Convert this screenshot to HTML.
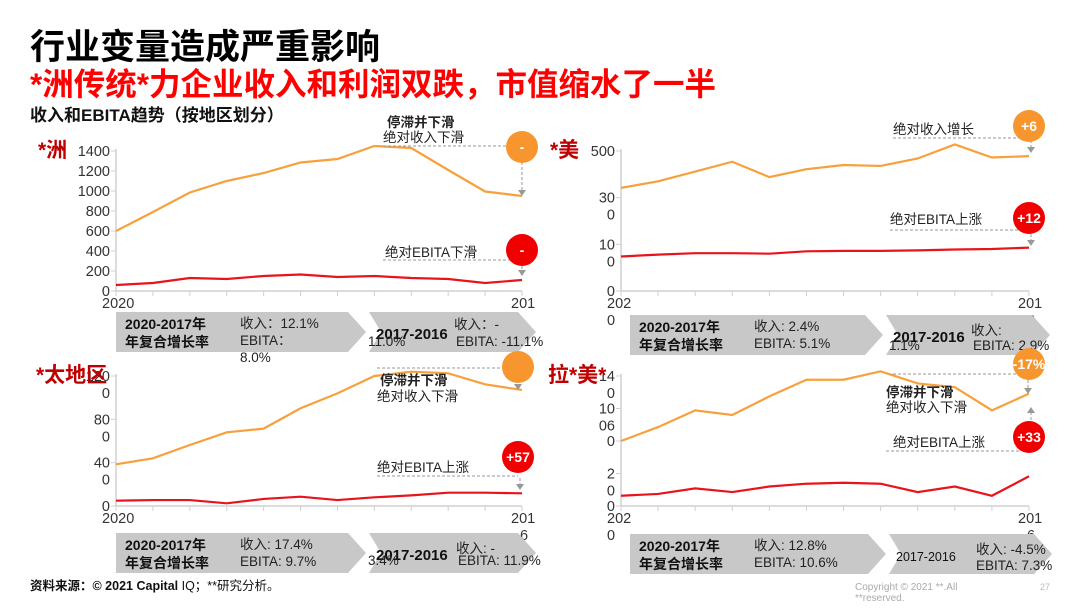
<!DOCTYPE html>
<html><head><meta charset="utf-8"><style>
body{margin:0;background:#fff;width:1080px;height:608px;overflow:hidden;font-family:"Liberation Sans","Noto Sans CJK SC",sans-serif}
svg text{font-family:"Liberation Sans","Noto Sans CJK SC",sans-serif}
</style></head><body>
<svg id="s" width="1080" height="608" viewBox="0 0 1080 608">
<text x="30" y="59" font-size="35" font-weight="bold" fill="#000">行业变量造成严重影响</text>
<text x="30" y="95" font-size="31.5" font-weight="bold" fill="#f00">*洲传统*力企业收入和利润双跌，市值缩水了一半</text>
<text x="30" y="121" font-size="17" font-weight="bold" fill="#111">收入和EBITA趋势（按地区划分）</text>
<text x="30" y="590" font-size="12.5" fill="#111"><tspan font-weight="bold">资料来源：© 2021 Capital</tspan> IQ；**研究分析。</text>
<text x="855" y="590" font-size="10" fill="#aaa">Copyright © 2021 **.All</text>
<text x="855" y="601" font-size="10" fill="#aaa">**reserved.</text>
<text x="1040" y="590" font-size="9" fill="#bbb">27</text>
</svg>
<script>
// Europe
const euRevenue=[600,790,985,1100,1180,1285,1320,1450,1430,1210,995,950];
const euEbita=[60,80,130,120,150,165,140,150,130,120,80,110];
const euTicks=[0,200,400,600,800,1000,1200,1400];
const euTickLabels=[["0"],["200"],["400"],["600"],["800"],["1000"],["1200"],["1400"]];
// North America
const naRevenue=[221,235,256,277,244,261,270,268,284,314,286,289];
const naEbita=[74,78,81,81,80,85,86,86,87,89,90,93];
const naTicks=[0,100,200,300];
const naTickLabels=[["0"],["10","0"],["30","0"],["500"]];
// Asia Pacific
const apRevenue=[385,440,563,680,714,902,1040,1200,1240,1225,1123,1071];
const apEbita=[49,55,55,25,65,86,55,80,98,123,123,117];
const apTicks=[0,400,800,1200];
const apTickLabels=[["0"],["40","0"],["80","0"],["120","0"]];
// Latin America
const laRevenue=[70,85,103,98,118,136,136,145,132,128,103,121];
const laEbita=[11,13,19,15,21,24,25,24,15,21,11,32];
const laTicks=[0,35,70,105,140];
const laTickLabels=[["0"],["2","0"],["0"],["10","06"],["14","0"]];

const NS="http://www.w3.org/2000/svg";
const svg=document.getElementById('s');
function mk(tag,attrs,parent,text){const e=document.createElementNS(NS,tag);for(const k in attrs)e.setAttribute(k,attrs[k]);if(text!==undefined)e.textContent=text;(parent||svg).appendChild(e);return e;}

function chart(cfg){
  const g=mk('g',{});
  
  
  const n=cfg.rev.length;
  const xs=i=>cfg.x0+(cfg.x1-cfg.x0)*i/(n-1);
  const ys=v=>cfg.y0-(cfg.y0-cfg.y1)*v/cfg.max;
  const ax=mk('line',{x1:cfg.x0,y1:cfg.y1-2,x2:cfg.x0,y2:cfg.y0,stroke:'#d0d0d0','stroke-width':1.5},g);
  
  
  const bx=mk('line',{x1:cfg.x0,y1:cfg.y0,x2:cfg.x1,y2:cfg.y0,stroke:'#d0d0d0','stroke-width':1.5},g);
  
  
  for(let i=0;i<n;i++){mk('line',{x1:xs(i),y1:cfg.y0,x2:xs(i),y2:cfg.y0+5,stroke:'#d0d0d0'},g);}
  cfg.ticks.forEach((t,i)=>{
    const y=ys(t);
    mk('line',{x1:cfg.x0-5,y1:y,x2:cfg.x0,y2:y,stroke:'#d0d0d0'},g);
    const lines=cfg.labels[i];
    const tx=mk('text',{x:cfg.x0-6,y:y+5,'font-size':14.5,fill:'#333','text-anchor':'end'},g);
    
    
    lines.forEach((l,j)=>mk('tspan',{x:cfg.x0-6,dy:j?17:0},tx,l));
  });
  const t1=mk('text',{x:cfg.x0-14,y:cfg.y0+17,'font-size':14.5,fill:'#333'},g);
  
  
  cfg.xStart.forEach((l,j)=>mk('tspan',{x:cfg.x0-14,dy:j?17:0},t1,l));
  const t2=mk('text',{x:cfg.x1-11,y:cfg.y0+17,'font-size':14.5,fill:'#333'},g);
  
  
  cfg.xEnd.forEach((l,j)=>mk('tspan',{x:cfg.x1-11+(j?9:0),dy:j?17:0},t2,l));
  const pr=mk('polyline',{points:cfg.rev.map((v,i)=>xs(i)+','+ys(v)).join(' '),fill:'none',stroke:'#f7a03c','stroke-width':2.2},g);
  
  
  const pe=mk('polyline',{points:cfg.eb.map((v,i)=>xs(i)+','+ys(v)).join(' '),fill:'none',stroke:'#e8141c','stroke-width':2.2},g);
  
  
  const rl=mk('text',{x:cfg.rx,y:cfg.y1+6,'font-size':21,'font-weight':'bold',fill:'#c00000'},g,cfg.region);
  
  
  const by=cfg.by,bh=40,bx0=cfg.bx0,bm=cfg.bm,bx1=cfg.bx1;
  const b1=mk('polygon',{points:`${bx0},${by} ${bm-18},${by} ${bm},${by+bh/2} ${bm-18},${by+bh} ${bx0},${by+bh}`,fill:'#c8c8c8'},g);
  
  
  const b2=mk('polygon',{points:`${bm+3},${by} ${bx1-18},${by} ${bx1},${by+bh/2} ${bx1-18},${by+bh} ${bm+3},${by+bh} ${bm+15},${by+bh/2}`,fill:'#c8c8c8'},g);
  
  
  mk('text',{x:bx0+9,y:by+17,'font-size':14,'font-weight':'bold',fill:'#111'},g,'2020-2017年');
  mk('text',{x:bx0+9,y:by+35,'font-size':14,'font-weight':'bold',fill:'#111'},g,'年复合增长率');
  cfg.b1.forEach((l,j)=>mk('text',{x:bx0+124,y:by+16+j*17,'font-size':13.5,fill:'#222'},g,l));
  mk('text',{x:bm+10,y:by+27,'font-size':cfg.serifYear?12.5:15,'font-weight':cfg.serifYear?'normal':'bold','font-family':cfg.serifYear?'Liberation Serif':'',fill:'#111'},g,'2017-2016');
  cfg.b2.forEach(([x,y,l])=>mk('text',{x:bm+x,y:by+y,'font-size':13.5,fill:'#222'},g,l));
  cfg.notes.forEach(([x,y,l,b])=>{const t=mk('text',{x,y,'font-size':13.5,'font-weight':b?'bold':'normal',fill:'#222'},g,l);});
  cfg.dash.forEach(([x1,y,x2])=>mk('line',{x1,y1:y,x2,y2:y,stroke:'#999','stroke-dasharray':'3,2'},g));
  cfg.arrows.forEach(([x,y1,y2])=>{mk('line',{x1:x,y1,x2:x,y2:y2+(y2>y1?-5:5),stroke:'#999','stroke-dasharray':'3,2'},g);const d=y2>y1?-6:6;mk('polygon',{points:`${x-4},${y2+d} ${x+4},${y2+d} ${x},${y2}`,fill:'#999'},g);});
  cfg.circles.forEach(([x,y,c,l])=>{const ci=mk('circle',{cx:x,cy:y,r:16,fill:c},g);mk('text',{x,y:y+5,'font-size':14,'font-weight':'bold',fill:'#fff','text-anchor':'middle'},g,l);});
}

chart({id:'europe',region:'*洲',rx:38,rev:euRevenue,eb:euEbita,ticks:euTicks,labels:euTickLabels,max:1400,x0:116,x1:522,y0:291,y1:151,
 xStart:['2020'],xEnd:['201'],bx0:116,by:312,bm:366,bx1:536,serifYear:false,
 b1:['收入：12.1%','EBITA：','8.0%'],b2:[[88,17,'收入：-'],[2,34,'11.0%'],[90,34,'EBITA: -11.1%']],
 notes:[[387,127,'停滞并下滑',true],[383,142,'绝对收入下滑'],[385,257,'绝对EBITA下滑']],
 dash:[[383,146,520],[383,260,520]],arrows:[[522,162,196],[522,266,276]],
 circles:[[522,147,'#f7962e','-'],[522,250,'#f00000','-']]});
chart({id:'north-america',region:'*美',rx:550,rev:naRevenue,eb:naEbita,ticks:naTicks,labels:naTickLabels,max:300,x0:621,x1:1029,y0:291,y1:151,
 xStart:['202','0'],xEnd:['201','6'],bx0:630,by:315,bm:883,bx1:1050,serifYear:false,
 b1:['收入: 2.4%','EBITA: 5.1%'],b2:[[88,20,'收入:'],[6,35,'1.1%'],[90,35,'EBITA: 2.9%']],
 notes:[[893,134,'绝对收入增长'],[890,224,'绝对EBITA上涨']],
 dash:[[893,138,1025],[890,230,1025]],arrows:[[1031,140,153],[1031,234,246]],
 circles:[[1029,126,'#f7962e','+6'],[1029,218,'#f00000','+12']]});
chart({id:'asia-pacific',region:'*太地区',rx:36,rev:apRevenue,eb:apEbita,ticks:apTicks,labels:apTickLabels,max:1200,x0:116,x1:522,y0:506,y1:376,
 xStart:['2020'],xEnd:['201','6'],bx0:116,by:533,bm:366,bx1:536,serifYear:false,
 b1:['收入: 17.4%','EBITA: 9.7%'],b2:[[90,20,'收入: -'],[2,32,'3.4%'],[92,32,'EBITA: 11.9%']],
 notes:[[380,385,'停滞并下滑',true],[377,401,'绝对收入下滑'],[377,472,'绝对EBITA上涨']],
 dash:[[377,368,505],[377,476,518]],arrows:[[518,385,390],[520,478,490]],
 circles:[[518,367,'#f7962e',''],[518,457,'#f00000','+57']]});
chart({id:'latin-america',region:'拉*美*',rx:548,rev:laRevenue,eb:laEbita,ticks:laTicks,labels:laTickLabels,max:140,x0:621,x1:1029,y0:506,y1:376,
 xStart:['202','0'],xEnd:['201','6'],bx0:630,by:534,bm:886,bx1:1052,serifYear:true,
 b1:['收入: 12.8%','EBITA: 10.6%'],b2:[[90,20,'收入: -4.5%'],[90,36,'EBITA: 7.3%']],
 notes:[[886,397,'停滞并下滑',true],[886,412,'绝对收入下滑'],[893,447,'绝对EBITA上涨']],
 dash:[[893,374,1025],[886,451,1020]],arrows:[[1028,375,394],[1031,420,407]],
 circles:[[1029,364,'#f7962e','-17%'],[1029,437,'#f00000','+33']]});
</script>
</body></html>
